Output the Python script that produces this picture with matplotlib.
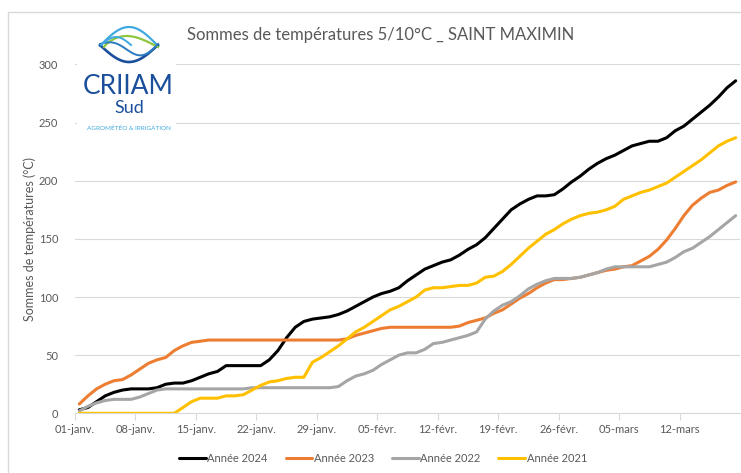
import numpy as np
import matplotlib
matplotlib.use("Agg")
import matplotlib.pyplot as plt
from matplotlib.patches import Rectangle

plt.rcParams['font.family'] = ['Lato', 'DejaVu Sans']

# Daily cumulated temperatures (base 5/10°C), day 0 = 1st of January
annee_2024 = [3, 5, 10, 15, 18, 20, 21, 21, 21, 22,
              25, 26, 26, 28, 31, 34, 36, 41, 41, 41,
              41, 41, 46, 54, 65, 74, 79, 81, 82, 83,
              85, 88, 92, 96, 100, 103, 105, 108, 114, 119,
              124, 127, 130, 132, 136, 141, 145, 151, 159, 167,
              175, 180, 184, 187, 187, 188, 193, 199, 204, 210,
              215, 219, 222, 226, 230, 232, 234, 234, 237, 243,
              247, 253, 259, 265, 272, 280, 286]
annee_2023 = [8, 15, 21, 25, 28, 29, 33, 38, 43, 46,
              48, 54, 58, 61, 62, 63, 63, 63, 63, 63,
              63, 63, 63, 63, 63, 63, 63, 63, 63, 63,
              63, 64, 67, 69, 71, 73, 74, 74, 74, 74,
              74, 74, 74, 74, 75, 78, 80, 82, 86, 89,
              94, 99, 103, 108, 112, 115, 115, 116, 117, 119,
              121, 123, 124, 126, 127, 131, 135, 141, 149, 159,
              170, 179, 185, 190, 192, 196, 199]
annee_2022 = [2, 6, 9, 11, 12, 12, 12, 14, 17, 20,
              21, 21, 21, 21, 21, 21, 21, 21, 21, 21,
              22, 22, 22, 22, 22, 22, 22, 22, 22, 22,
              23, 28, 32, 34, 37, 42, 46, 50, 52, 52,
              55, 60, 61, 63, 65, 67, 70, 81, 88, 93,
              96, 101, 107, 111, 114, 116, 116, 116, 117, 119,
              121, 124, 126, 126, 126, 126, 126, 128, 130, 134,
              139, 142, 147, 152, 158, 164, 170]
annee_2021 = [0, 0, 0, 0, 0, 0, 0, 0, 0, 0,
              0, 0, 5, 10, 13, 13, 13, 15, 15, 16,
              20, 24, 27, 28, 30, 31, 31, 44, 48, 53,
              58, 64, 70, 74, 79, 84, 89, 92, 96, 100,
              106, 108, 108, 109, 110, 110, 112, 117, 118, 122,
              128, 135, 142, 148, 154, 158, 163, 167, 170, 172,
              173, 175, 178, 184, 187, 190, 192, 195, 198, 203,
              208, 213, 218, 224, 230, 234, 237]

series_labels = ["Année 2024", "Année 2023", "Année 2022", "Année 2021"]
series_colors = ["#000000", "#ED7D31", "#A5A5A5", "#FFC000"]
tick_labels = ["01-janv.", "08-janv.", "15-janv.", "22-janv.", "29-janv.",
               "05-févr.", "12-févr.", "19-févr.", "26-févr.", "05-mars", "12-mars"]

days = np.arange(len(annee_2024))

fig = plt.figure(figsize=(7.41, 4.73), dpi=100)
ax = fig.add_axes([75 / 741, 1 - 413.3 / 473, 665 / 741, 348.8 / 473])

for values, label, color in zip([annee_2024, annee_2023, annee_2022, annee_2021],
                                series_labels, series_colors):
    ax.plot(days, values, color=color, lw=2.2, label=label,
            solid_joinstyle="round", solid_capstyle="round")

ax.set_xlim(-0.5, 76.5)
ax.set_ylim(0, 300)
ax.set_yticks(range(0, 301, 50))
ax.set_xticks([7 * k - 0.5 for k in range(len(tick_labels))])
ax.set_xticklabels(tick_labels)
ax.grid(axis="y", color="#D9D9D9", lw=0.8)
ax.set_axisbelow(True)
for side in ["left", "right", "top"]:
    ax.spines[side].set_visible(False)
ax.spines["bottom"].set_color("#D9D9D9")
ax.tick_params(axis="x", colors="#D9D9D9", length=5, width=0.8, pad=3,
               labelcolor="#595959", labelsize=8)
ax.tick_params(axis="y", length=0, pad=12, labelcolor="#595959", labelsize=8)
ax.set_ylabel("Sommes de températures (°C)", color="#595959", fontsize=9, labelpad=2)

fig.legend(loc="center", bbox_to_anchor=(383 / 741, 1 - 458 / 473), ncol=4,
           frameon=False, fontsize=8, handlelength=2.4, handletextpad=0.15,
           columnspacing=1.6, labelcolor="#595959")

# overlay in pixel coordinates for frame, title and logo
ov = fig.add_axes([0, 0, 1, 1], zorder=5)
ov.set_xlim(0, 741)
ov.set_ylim(473, 0)
ov.axis("off")
ov.patch.set_visible(False)

ov.plot([8, 8, 741], [473, 12, 12], color="#D9D9D9", lw=1)
ov.text(381, 35, "Sommes de températures 5/10°C _ SAINT MAXIMIN",
        ha="center", va="center", fontsize=12, color="#595959")

ov.add_patch(Rectangle((77, 20), 99, 114, facecolor="white", edgecolor="none"))
t = np.linspace(0, 1, 60)
ov.plot(100 + 58 * t, 46 - 19 * np.sin(np.pi * t), color="#3FA9E0", lw=1.6)
ov.plot(100 + 58 * t, 45 + 17 * np.sin(np.pi * t), color="#1B4F9C", lw=1.9)
ov.plot(104 + 54 * t, 47 - 11 * np.sin(np.pi * t ** 0.8), color="#8DC63F", lw=1.6)
ov.plot(100 + 58 * t, 44 + 7 * np.sin(np.pi * t) - 6 * np.sin(2 * np.pi * t),
        color="#2B7BC0", lw=1.4)
ov.plot(101 + 30 * t, 45 - 8 * np.sin(np.pi * t), color="#3FA9E0", lw=1.4)
ov.text(128.5, 87, "CRIIAM", ha="center", va="center", fontsize=19,
        color="#1B4F9C")
ov.text(129, 108, "Sud", ha="center", va="center", fontsize=13,
        color="#1B4F9C")
ov.text(128.5, 128, "AGROMÉTÉO & IRRIGATION", ha="center", va="center",
        fontsize=4.6, color="#3FA9E0")

fig.savefig("out.png", dpi=100)
